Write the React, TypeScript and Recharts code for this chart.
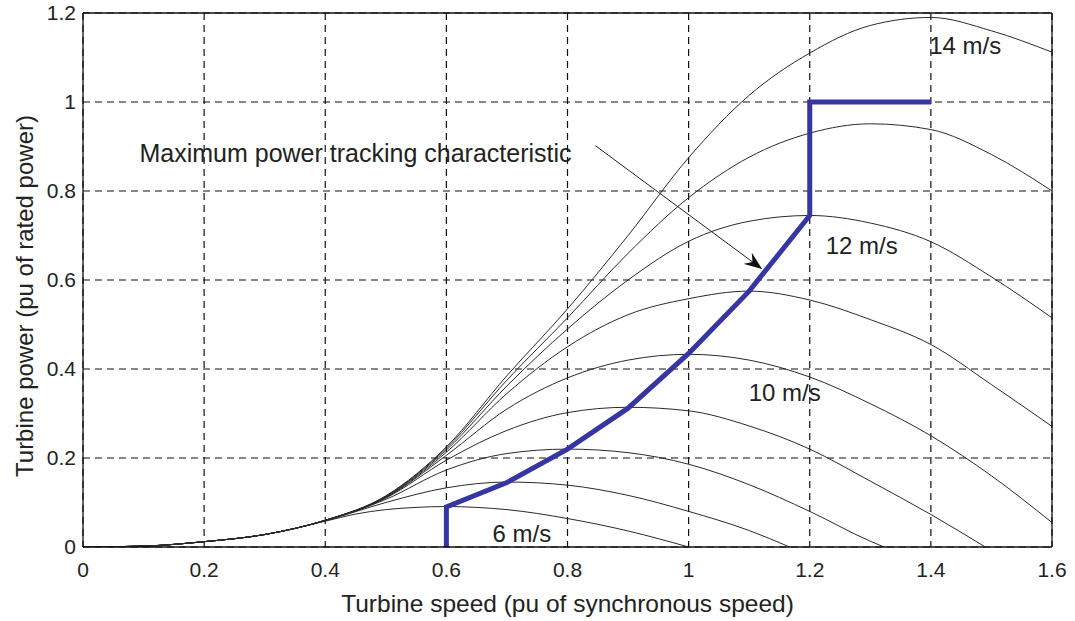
import React from 'react';
import {
  LineChart,
  Line,
  XAxis,
  YAxis,
  CartesianGrid,
  ReferenceLine,
  ReferenceDot,
} from 'recharts';

// turbine speed (pu) sample points
const speedsFull = [0, 0.1, 0.2, 0.3, 0.4, 0.5, 0.6, 0.7, 0.8, 0.9, 1.0, 1.1, 1.2, 1.3, 1.4, 1.5, 1.6];

const speeds6 = [0, 0.1, 0.2, 0.3, 0.4, 0.45, 0.5, 0.55, 0.6, 0.65, 0.7, 0.8, 0.9, 1.0];
const power6 = [0, 0.002, 0.012, 0.028, 0.058, 0.074, 0.084, 0.089, 0.091, 0.089, 0.084, 0.064, 0.036, 0];

const speeds7 = [0, 0.1, 0.2, 0.3, 0.4, 0.5, 0.6, 0.7, 0.8, 0.9, 1.0, 1.1, 1.167];
const power7 = [0, 0.002, 0.012, 0.028, 0.059, 0.1, 0.133, 0.146, 0.139, 0.116, 0.08, 0.037, 0];

const speeds8 = [0, 0.1, 0.2, 0.3, 0.4, 0.5, 0.6, 0.7, 0.8, 0.9, 1.0, 1.1, 1.2, 1.3, 1.323];
const power8 = [0, 0.002, 0.012, 0.028, 0.059, 0.107, 0.173, 0.21, 0.22, 0.212, 0.186, 0.14, 0.08, 0.013, 0];

const speeds9 = [0, 0.1, 0.2, 0.3, 0.4, 0.5, 0.6, 0.7, 0.8, 0.9, 1.0, 1.1, 1.2, 1.3, 1.4, 1.49];
const power9 = [0, 0.002, 0.012, 0.028, 0.06, 0.11, 0.195, 0.262, 0.302, 0.314, 0.306, 0.272, 0.22, 0.148, 0.073, 0];

const power10 = [0, 0.002, 0.012, 0.028, 0.06, 0.111, 0.206, 0.31, 0.38, 0.42, 0.433, 0.42, 0.382, 0.322, 0.25, 0.16, 0.055];
const power11 = [0, 0.002, 0.012, 0.028, 0.06, 0.112, 0.213, 0.345, 0.45, 0.522, 0.558, 0.575, 0.555, 0.511, 0.455, 0.365, 0.271];
const power12 = [0, 0.002, 0.012, 0.028, 0.06, 0.113, 0.218, 0.362, 0.49, 0.6, 0.687, 0.732, 0.745, 0.728, 0.686, 0.607, 0.515];
const power13 = [0, 0.002, 0.012, 0.028, 0.06, 0.114, 0.222, 0.375, 0.515, 0.66, 0.785, 0.876, 0.93, 0.951, 0.938, 0.882, 0.8];
const power14 = [0, 0.002, 0.012, 0.028, 0.06, 0.115, 0.225, 0.385, 0.535, 0.7, 0.875, 1.015, 1.11, 1.172, 1.19, 1.16, 1.112];

// maximum power tracking characteristic
const mptSpeeds = [0.6, 0.6, 0.7, 0.8, 0.9, 1.0, 1.1, 1.2, 1.2, 1.4];
const mptPower = [0, 0.09, 0.145, 0.22, 0.312, 0.435, 0.575, 0.745, 1.0, 1.0];

const xTicks = [0, 0.2, 0.4, 0.6, 0.8, 1.0, 1.2, 1.4, 1.6];
const xTickLabels = ['0', '0.2', '0.4', '0.6', '0.8', '1', '1.2', '1.4', '1.6'];
const yTicks = [0, 0.2, 0.4, 0.6, 0.8, 1.0, 1.2];
const yTickLabels = ['0', '0.2', '0.4', '0.6', '0.8', '1', '1.2'];

// annotation texts: [text, speed, power]
const annotations: [string, number, number][] = [
  ['Maximum power tracking characteristic', 0.085, 0.884],
  ['14 m/s', 1.389, 1.127],
  ['12 m/s', 1.218, 0.678],
  ['10 m/s', 1.091, 0.347],
  ['6 m/s', 0.668, 0.03],
];
const arrowFrom = { x: 0.846, y: 0.902 };
const arrowTo = { x: 1.12, y: 0.626 };

const toPoints = (xs: number[], ys: number[]) => xs.map((x, i) => ({ x, y: ys[i] }));

const curves = [
  toPoints(speeds6, power6),
  toPoints(speeds7, power7),
  toPoints(speeds8, power8),
  toPoints(speeds9, power9),
  toPoints(speedsFull, power10),
  toPoints(speedsFull, power11),
  toPoints(speedsFull, power12),
  toPoints(speedsFull, power13),
  toPoints(speedsFull, power14),
];
const mpt = toPoints(mptSpeeds, mptPower);

const FONT = '"Liberation Sans", Arial, Helvetica, sans-serif';
const TEXT = '#222';

// rotated y-axis title, centred a little below the middle of the plot like the original
const YTitle = ({ viewBox }: any) => {
  const cx = 24;
  const cy = viewBox.y + viewBox.height / 2 + 16;
  return (
    <text
      x={cx}
      y={cy}
      transform={`rotate(-90, ${cx}, ${cy})`}
      textAnchor="middle"
      dominantBaseline="central"
      fill={TEXT}
      fontSize={24}
      fontFamily={FONT}
    >
      Turbine power (pu of rated power)
    </text>
  );
};

export default function App() {
  return (
    <div style={{ position: 'absolute', left: 0, top: 0, background: '#fff' }}>
      <LineChart
        width={1075}
        height={621}
        margin={{ top: 13, right: 23, bottom: 0, left: 0 }}
        style={{ fontFamily: FONT }}
      >
        <defs>
          <marker
            id="arrowHead"
            markerUnits="userSpaceOnUse"
            markerWidth={18}
            markerHeight={14}
            refX={17}
            refY={7}
            orient="auto"
          >
            <path d="M0,0 L18,7 L0,14 L6,7 Z" fill="#111" />
          </marker>
        </defs>
        <CartesianGrid
          stroke="#111"
          strokeWidth={1.2}
          strokeDasharray="7 5"
          horizontalValues={yTicks}
          verticalValues={xTicks}
        />
        <XAxis
          type="number"
          dataKey="x"
          domain={[0, 1.6]}
          ticks={xTicks}
          tickFormatter={(v, i) => xTickLabels[i]}
          allowDataOverflow
          height={74}
          tickLine={false}
          tickSize={6}
          tickMargin={9}
          axisLine={{ stroke: '#111', strokeWidth: 1.3 }}
          tick={{ fill: TEXT, fontSize: 21 }}
          label={{
            value: 'Turbine speed (pu of synchronous speed)',
            position: 'insideBottom',
            offset: 9,
            fill: TEXT,
            fontSize: 24.5,
          }}
        />
        <YAxis
          type="number"
          dataKey="y"
          domain={[0, 1.2]}
          ticks={yTicks}
          tickFormatter={(v, i) => yTickLabels[i]}
          allowDataOverflow
          width={83}
          tickLine={false}
          tickSize={6}
          tickMargin={1}
          axisLine={{ stroke: '#111', strokeWidth: 1.3 }}
          tick={{ fill: TEXT, fontSize: 21 }}
          label={{ content: YTitle }}
        />
        <ReferenceLine y={1.2} stroke="#111" strokeWidth={1.3} />
        <ReferenceLine x={1.6} stroke="#111" strokeWidth={1.3} />
        {curves.map((data, i) => (
          <Line
            key={i}
            data={data}
            dataKey="y"
            type="monotone"
            stroke="#2a2a2a"
            strokeWidth={1}
            dot={false}
            isAnimationActive={false}
          />
        ))}
        <Line
          data={mpt}
          dataKey="y"
          type="linear"
          stroke="#3636a2"
          strokeWidth={5}
          dot={false}
          isAnimationActive={false}
        />
        <ReferenceLine
          segment={[arrowFrom, arrowTo]}
          stroke="#222"
          strokeWidth={1}
          markerEnd="url(#arrowHead)"
        />
        {annotations.map(([text, x, y]) => (
          <ReferenceDot
            key={text}
            x={x}
            y={y}
            r={0}
            fill="none"
            stroke="none"
            label={{ value: text, position: 'right', fill: TEXT, fontSize: text.length > 10 ? 25 : 24 }}
          />
        ))}
      </LineChart>
    </div>
  );
}
